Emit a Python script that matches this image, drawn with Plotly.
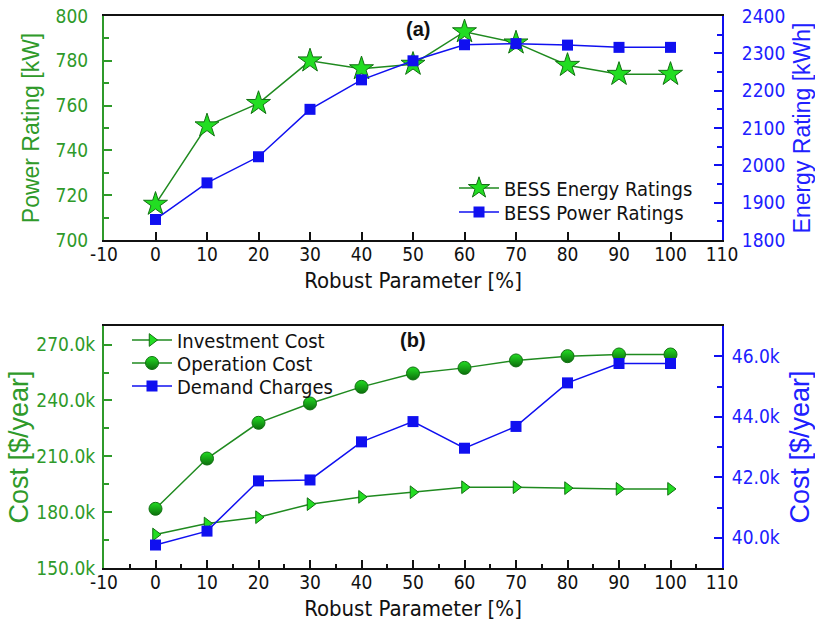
import plotly.graph_objects as go

# Robust parameter sweep [%]
robust = [0, 10, 20, 30, 40, 50, 60, 70, 80, 90, 100]
x_tickvals = [-10, 0, 10, 20, 30, 40, 50, 60, 70, 80, 90, 100, 110]
x_ticktext = ["-10", "0", "10", "20", "30", "40", "50", "60", "70", "80", "90", "100", "110"]

# Panel (a): BESS ratings
energy_ratings = [716, 751, 761, 780, 776.5, 778.5, 793, 788, 778, 774, 774]          # left axis [kW]
power_ratings = [1855, 1953, 2023, 2150, 2229, 2280, 2323, 2326, 2322, 2316, 2316]     # right axis [kWh]

# Panel (b): yearly costs
investment_cost = [168000, 173900, 177300, 184300, 188200, 190700, 193400, 193400, 192900, 192500, 192500]
operation_cost = [181800, 208800, 228000, 238400, 247300, 254500, 257500, 261500, 263800, 264700, 264700]
demand_charges = [39760, 40220, 41880, 41910, 43170, 43840, 42960, 43680, 45120, 45760, 45760]

GREEN_TXT = "#2f9a2a"
GREEN_LINE = "#1f8a1f"
GREEN_FILL = "#22dd22"
GREEN_EDGE = "#127012"
BLUE = "#1010f0"
BLUE_TXT = "#2020ff"

NARROW = "DejaVu Sans Condensed, Liberation Sans, Arial"
WIDE = "Liberation Sans, Arial"

# plot-area frame in figure pixels
LEFT, RIGHT, TOP, BOTTOM = 104, 722, 16, 568
FIG_W, FIG_H = 815, 626
W = float(RIGHT - LEFT)
H = float(BOTTOM - TOP)


def px(pixel_x):
    return (pixel_x - LEFT) / W


def py(pixel_y):
    return (BOTTOM - pixel_y) / H


fig = go.Figure()

fig.add_trace(go.Scatter(
    x=robust, y=energy_ratings, name="BESS Energy Ratings", mode="lines+markers",
    line=dict(color=GREEN_LINE, width=1.5),
    marker=dict(symbol="star", size=18, color=GREEN_FILL, line=dict(color=GREEN_EDGE, width=1)),
    xaxis="x", yaxis="y", legend="legend",
))
fig.add_trace(go.Scatter(
    x=robust, y=power_ratings, name="BESS Power Ratings", mode="lines+markers",
    line=dict(color=BLUE, width=1.5),
    marker=dict(symbol="square", size=11, color=BLUE),
    xaxis="x", yaxis="y2", legend="legend2",
))

fig.add_trace(go.Scatter(
    x=robust, y=investment_cost, name="Investment Cost", mode="lines+markers",
    line=dict(color=GREEN_LINE, width=1.5),
    marker=dict(symbol="triangle-right", size=11, color=GREEN_FILL, line=dict(color=GREEN_EDGE, width=1)),
    xaxis="x2", yaxis="y3", legend="legend3",
))
fig.add_trace(go.Scatter(
    x=robust, y=operation_cost, name="Operation Cost", mode="lines+markers",
    line=dict(color=GREEN_LINE, width=1.5),
    marker=dict(symbol="circle", size=13, color=GREEN_FILL,
                gradient=dict(type="vertical", color="#0c6e0c"),
                line=dict(color=GREEN_EDGE, width=1)),
    xaxis="x2", yaxis="y3", legend="legend4",
))
fig.add_trace(go.Scatter(
    x=robust, y=demand_charges, name="Demand Charges", mode="lines+markers",
    line=dict(color=BLUE, width=1.5),
    marker=dict(symbol="square", size=11, color=BLUE),
    xaxis="x2", yaxis="y4", legend="legend5",
))

tick_font = dict(family=NARROW, size=19, color="#111111")

xcommon = dict(
    range=[-10, 110], tickvals=x_tickvals, ticktext=x_ticktext, ticks="inside", ticklen=8,
    tickwidth=1.5, tickcolor="#111111", showline=True, linecolor="#111111", linewidth=2,
    mirror=True, showgrid=False, zeroline=False, tickfont=tick_font, automargin=False,
    ticklabelstandoff=-4,
    title=dict(text="Robust Parameter [%]", font=dict(family=NARROW, size=22, color="#111111"), standoff=9),
)


def legend_box(x, y):
    # one legend per entry so the row spacing can be set freely
    return dict(
        x=x, y=y, xref="paper", yref="paper", xanchor="left", yanchor="middle",
        bgcolor="rgba(0,0,0,0)", font=dict(family=NARROW, size=20, color="#111111"),
        itemwidth=40, borderwidth=0,
    )


fig.update_layout(
    width=FIG_W, height=FIG_H,
    paper_bgcolor="white", plot_bgcolor="white",
    margin=dict(l=LEFT, r=FIG_W - RIGHT, t=TOP, b=FIG_H - BOTTOM, autoexpand=False),
    showlegend=True,
    xaxis=dict(xcommon, domain=[0, 1], anchor="y"),
    xaxis2=dict(xcommon, domain=[0, 1], anchor="y3",
                minor=dict(dtick=5, tick0=0, ticks="inside", ticklen=4, tickcolor="#111111")),
    yaxis=dict(
        domain=[py(240), 1.0], range=[700, 800], dtick=20, ticks="inside", ticklen=8, tickwidth=1.5,
        tickcolor=GREEN_TXT, showline=True, linecolor=GREEN_TXT, linewidth=2, automargin=False,
        showgrid=False, zeroline=False, tickfont=dict(family=NARROW, size=19, color=GREEN_TXT),
        ticklabelstandoff=10,
        minor=dict(dtick=10, ticks="inside", ticklen=5, tickcolor=GREEN_TXT),
        title=dict(text="Power Rating [kW]", font=dict(family=WIDE, size=23, color=GREEN_TXT), standoff=10),
    ),
    yaxis2=dict(
        overlaying="y", side="right", anchor="x", range=[1800, 2400], dtick=100,
        ticks="inside", ticklen=8, tickwidth=1.5, tickcolor=BLUE, showline=True, linecolor=BLUE,
        linewidth=2, showgrid=False, zeroline=False, automargin=False,
        tickfont=dict(family=NARROW, size=19, color=BLUE_TXT), ticklabelstandoff=14,
        minor=dict(dtick=50, ticks="inside", ticklen=5, tickcolor=BLUE),
        title=dict(text="Energy Rating [kWh]", font=dict(family=WIDE, size=23, color=BLUE_TXT), standoff=16),
    ),
    yaxis3=dict(
        domain=[0.0, py(326)], range=[150000, 280000], dtick=30000, tick0=150000, tickformat=".4s",
        ticks="inside", ticklen=8, tickwidth=1.5, tickcolor=GREEN_TXT, showline=True,
        linecolor=GREEN_TXT, linewidth=2, showgrid=False, zeroline=False, automargin=False,
        tickfont=dict(family=NARROW, size=19, color=GREEN_TXT), ticklabelstandoff=3,
        minor=dict(dtick=15000, ticks="inside", ticklen=5, tickcolor=GREEN_TXT),
        title=dict(text="Cost [$/year]", font=dict(family=WIDE, size=27, color=GREEN_TXT), standoff=0),
    ),
    yaxis4=dict(
        overlaying="y3", side="right", anchor="x2", range=[39000, 47000], dtick=2000, tick0=40000,
        tickformat=".3s", ticks="inside", ticklen=8, tickwidth=1.5, tickcolor=BLUE, showline=True,
        linecolor=BLUE, linewidth=2, showgrid=False, zeroline=False, automargin=False,
        tickfont=dict(family=NARROW, size=19, color=BLUE_TXT), ticklabelstandoff=4,
        minor=dict(dtick=1000, ticks="inside", ticklen=5, tickcolor=BLUE),
        title=dict(text="Cost [$/year]", font=dict(family=WIDE, size=27, color=BLUE_TXT), standoff=18),
    ),
    legend=legend_box(px(454), py(188)),
    legend2=legend_box(px(454), py(212)),
    legend3=legend_box(px(127), py(340)),
    legend4=legend_box(px(127), py(363)),
    legend5=legend_box(px(127), py(386)),
    annotations=[
        dict(text="<b>(a)</b>", x=px(418), y=1.0, xref="paper", yref="paper", showarrow=False,
             xanchor="center", yanchor="top", font=dict(family=WIDE, size=20, color="#111111")),
        dict(text="<b>(b)</b>", x=px(413), y=py(327), xref="paper", yref="paper", showarrow=False,
             xanchor="center", yanchor="top", font=dict(family=WIDE, size=20, color="#111111")),
    ],
)

fig.write_html("out.html")
